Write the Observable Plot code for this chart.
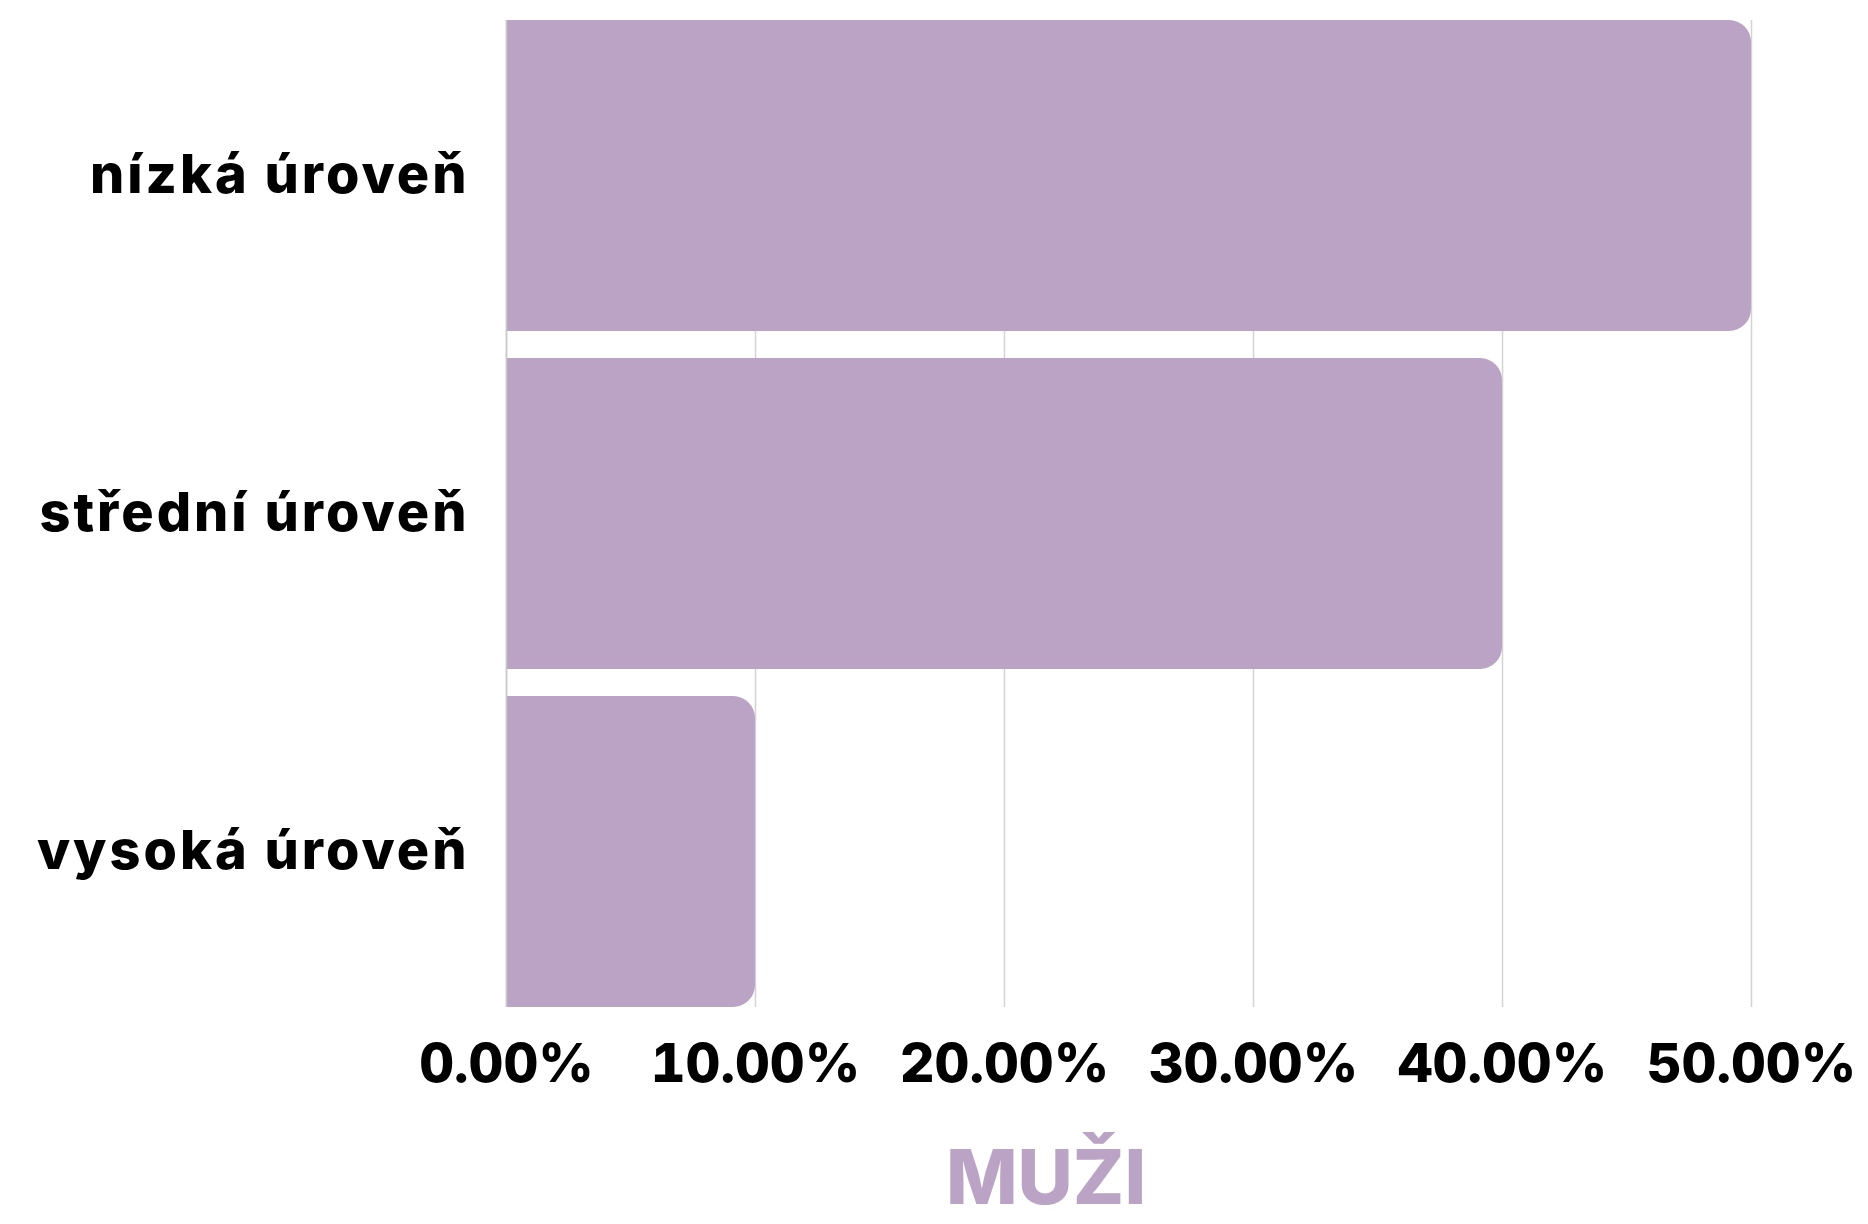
<!DOCTYPE html>
<html>
<head>
<meta charset="utf-8">
<script src="https://cdn.jsdelivr.net/npm/d3@7"></script>
<script src="https://cdn.jsdelivr.net/npm/@observablehq/plot@0.6"></script>
<style>
  html, body { margin: 0; padding: 0; background: #fff; }
  #wrap { position: relative; width: 1868px; height: 1224px; overflow: hidden; }
  #title { position: absolute; left: 1046px; transform: translateX(-50%); top: 1130px; white-space: nowrap;
    font-family: Inter, "Open Sans", sans-serif; font-weight: 800; font-size: 76px; color: #baa3c4; line-height: normal; }
  g[aria-label="y-axis tick label"] text { letter-spacing: 3px; }
</style>
</head>
<body>
<div id="wrap"><div id="chart"></div><div id="title">MUŽI</div></div>
<script>
const categories = ["nízká úroveň", "střední úroveň", "vysoká úroveň"];
const values = [0.50, 0.40, 0.10];
const tickValues = [0, 0.1, 0.2, 0.3, 0.4, 0.5];
const tickLabels = ["0.00%", "10.00%", "20.00%", "30.00%", "40.00%", "50.00%"];

const data = categories.map((c, i) => ({category: c, value: values[i]}));
const fill = "#baa3c4";

const chart = Plot.plot({
  width: 1868,
  height: 1130,
  marginLeft: 506,
  marginRight: 117,
  marginTop: 20,
  marginBottom: 123,
  style: {fontFamily: "Inter, 'Open Sans', sans-serif", fontWeight: 800, fontSize: "54px", color: "#000", background: "#fff"},
  x: {domain: [0, 0.5], ticks: tickValues, tickFormat: d => tickLabels[tickValues.indexOf(d)], tickSize: 0, tickPadding: 36, label: null},
  y: {domain: categories, paddingInner: 0.08, paddingOuter: 0, tickSize: 0, tickPadding: 37, label: null, fontSize: 56},
  marks: [
    Plot.ruleX(tickValues, {stroke: "#d4d4d4", strokeWidth: 1.5}),
    Plot.barX(data, {x: "value", y: "category", fill, rx: 22}),
    Plot.barX(data, {x1: 0, x2: d => d.value / 2, y: "category", fill}),
    Plot.ruleX([0], {stroke: "#c8c8c8", strokeWidth: 1.5})
  ]
});
document.getElementById("chart").appendChild(chart);
</script>
</body>
</html>
